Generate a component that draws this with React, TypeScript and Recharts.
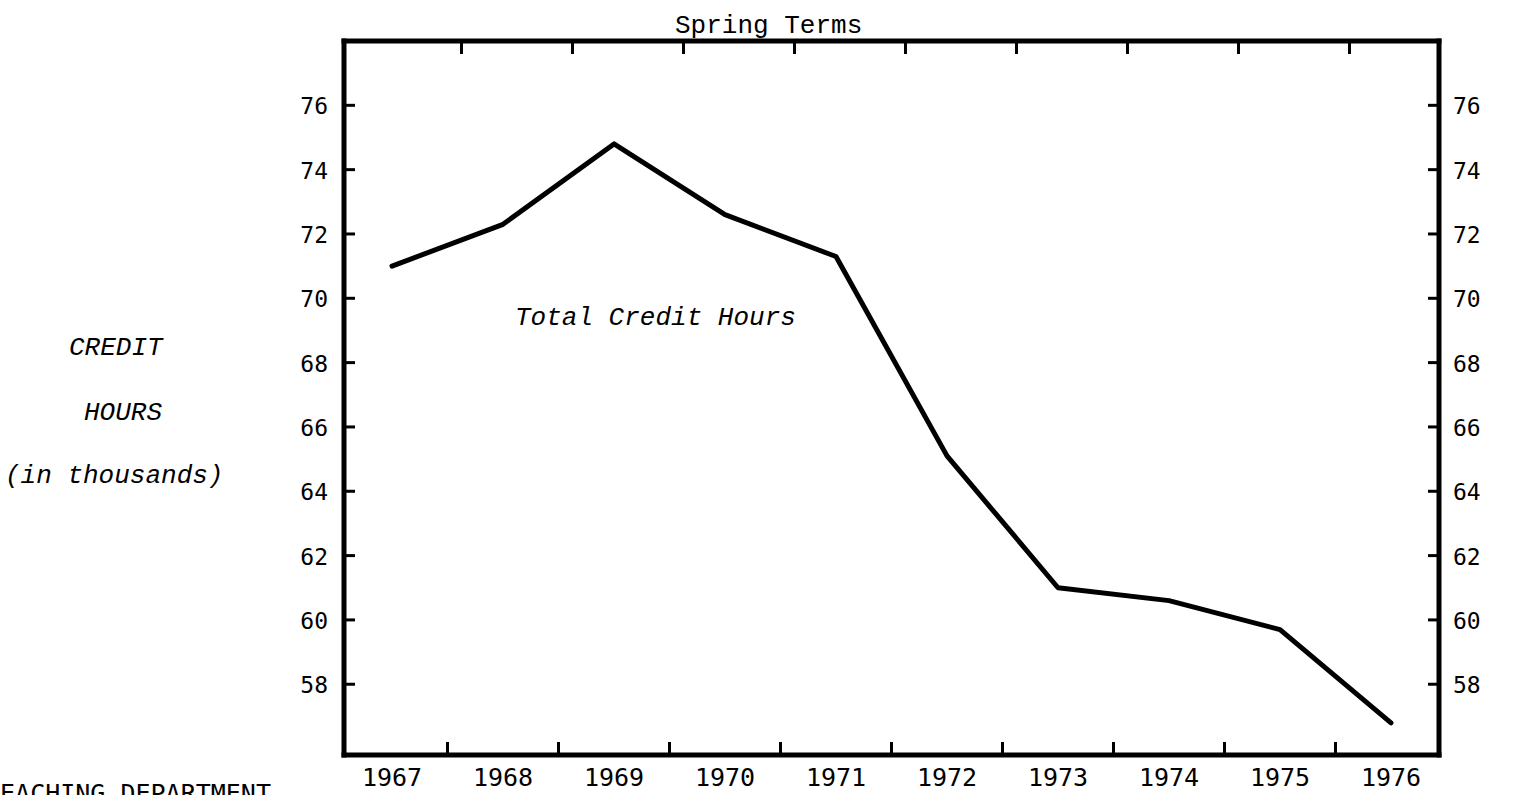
import { LineChart, Line, XAxis, YAxis } from 'recharts';

const years = ['1967', '1968', '1969', '1970', '1971', '1972', '1973', '1974', '1975', '1976'];
const creditHours = [71.0, 72.3, 74.8, 72.6, 71.3, 65.1, 61.0, 60.6, 59.7, 56.8];
const yTicks = [58, 60, 62, 64, 66, 68, 70, 72, 74, 76];

const data = years.map((year, i) => ({ year, hours: creditHours[i] }));

// plot frame
const W = 1522;
const H = 795;
const LEFT = 344;
const RIGHT = 1439;
const TOP = 41;
const BOTTOM = 755;
const X_PAD = 48;
const STEP = (RIGHT - LEFT - 2 * X_PAD) / (years.length - 1);

const tickFont = '"DejaVu Sans Mono", monospace';
const typeFont = '"Liberation Mono", monospace';
const frame = { stroke: '#000', strokeWidth: 5, strokeLinecap: 'square' as const };

const BottomTick = ({ x, y, payload, index }: any) => (
  <g>
    <text x={x} y={y + 31} textAnchor="middle" fontFamily={tickFont} fontSize={25} fill="#000">
      {payload.value}
    </text>
    {index < years.length - 1 && (
      <line x1={x + STEP / 2} y1={BOTTOM} x2={x + STEP / 2} y2={BOTTOM - 13} stroke="#000" strokeWidth={3} />
    )}
  </g>
);

const TopTick = ({ x, index }: any) =>
  index < years.length - 1 ? (
    <line x1={x + STEP / 2 + 14} y1={TOP} x2={x + STEP / 2 + 14} y2={TOP + 13} stroke="#000" strokeWidth={3} />
  ) : (
    <g />
  );

const LeftTick = ({ x, y, payload }: any) => (
  <g>
    <line x1={x} y1={y} x2={x + 11} y2={y} stroke="#000" strokeWidth={3} />
    <text x={x - 16} y={y + 9} textAnchor="end" fontFamily={tickFont} fontSize={23} fill="#000">
      {payload.value}
    </text>
  </g>
);

const RightTick = ({ x, y, payload }: any) => (
  <g>
    <line x1={x - 11} y1={y} x2={x} y2={y} stroke="#000" strokeWidth={3} />
    <text x={x + 14} y={y + 9} textAnchor="start" fontFamily={tickFont} fontSize={23} fill="#000">
      {payload.value}
    </text>
  </g>
);

const note = (extra: React.CSSProperties): React.CSSProperties => ({
  position: 'absolute',
  fontFamily: typeFont,
  fontSize: 26,
  color: '#000',
  whiteSpace: 'nowrap',
  lineHeight: 1,
  ...extra,
});

export default function App() {
  return (
    <div style={{ position: 'absolute', left: 0, top: 0, width: W, height: H, overflow: 'hidden', background: '#fff' }}>
      <LineChart width={W} height={H} data={data} margin={{ top: TOP - 1, right: 0, bottom: 0, left: 0 }}>
        <XAxis
          dataKey="year"
          height={H - BOTTOM}
          padding={{ left: X_PAD, right: X_PAD }}
          axisLine={frame}
          tickLine={false}
          tickSize={0}
          tickMargin={0}
          interval={0}
          tick={<BottomTick />}
        />
        <XAxis
          xAxisId="top"
          orientation="top"
          dataKey="year"
          height={1}
          padding={{ left: X_PAD, right: X_PAD }}
          axisLine={frame}
          tickLine={false}
          tickSize={0}
          tickMargin={0}
          interval={0}
          tick={<TopTick />}
        />
        <YAxis
          yAxisId="left"
          width={LEFT}
          domain={[55.8, 78]}
          ticks={yTicks}
          allowDataOverflow
          axisLine={frame}
          tickLine={false}
          tickSize={0}
          tickMargin={0}
          interval={0}
          tick={<LeftTick />}
        />
        <YAxis
          yAxisId="right"
          orientation="right"
          width={W - RIGHT}
          domain={[55.8, 78]}
          ticks={yTicks}
          allowDataOverflow
          axisLine={frame}
          tickLine={false}
          tickSize={0}
          tickMargin={0}
          interval={0}
          tick={<RightTick />}
        />
        <Line
          yAxisId="left"
          dataKey="hours"
          stroke="#000"
          strokeWidth={5}
          strokeLinejoin="round"
          strokeLinecap="round"
          dot={false}
          activeDot={false}
          isAnimationActive={false}
        />
        <Line
          xAxisId="top"
          yAxisId="right"
          dataKey="hours"
          stroke="none"
          dot={false}
          activeDot={false}
          isAnimationActive={false}
        />
      </LineChart>

      <div style={note({ left: 675, top: 13 })}>Spring Terms</div>
      <div style={note({ left: 515, top: 305, fontStyle: 'italic' })}>Total Credit Hours</div>
      <div style={note({ left: 69, top: 335, fontStyle: 'italic' })}>CREDIT</div>
      <div style={note({ left: 84, top: 400, fontStyle: 'italic' })}>HOURS</div>
      <div style={note({ left: 5, top: 463, fontStyle: 'italic' })}>(in thousands)</div>
      <div style={note({ left: -15, top: 781, fontFamily: tickFont, fontSize: 25 })}>TEACHING DEPARTMENT</div>
    </div>
  );
}
